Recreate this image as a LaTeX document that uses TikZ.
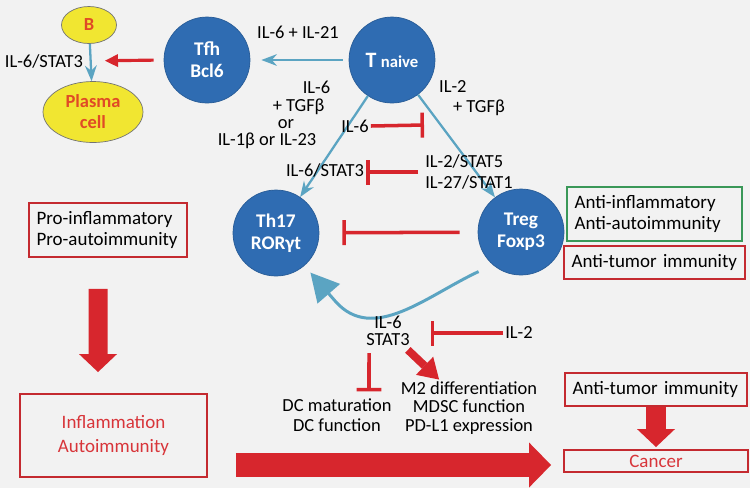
\documentclass[tikz,border=0pt]{standalone}
\usepackage{fontspec}
\setmainfont{Carlito}
\usetikzlibrary{shapes.geometric, arrows.meta, positioning}
\usepackage{xcolor}
\definecolor{cellblue}{HTML}{2F6CB2}
\definecolor{linkblue}{HTML}{5BA4C2}
\definecolor{inhred}{HTML}{D7262D}
\definecolor{boxred}{HTML}{C42A30}
\definecolor{boxgreen}{HTML}{3A9858}
\definecolor{bcellfill}{HTML}{F1E631}
\definecolor{bgrey}{HTML}{F2F2F2}
\definecolor{labred}{HTML}{E04A26}
\definecolor{txtred}{HTML}{D8353A}

\begin{document}
\begin{tikzpicture}[x=0.02cm, y=-0.02cm, >=Stealth,
  txt/.style={font=\fontsize{10.5}{11.5}\selectfont, align=center, inner sep=1pt},
  cell/.style={circle, fill=cellblue, draw=cellblue!85!black, minimum size=1.72cm, text=white, font=\bfseries\fontsize{11}{12.5}\selectfont, align=center},
  bcell/.style={ellipse, fill=bcellfill, draw=black!55, text=labred, font=\bfseries\fontsize{10.5}{12}\selectfont, align=center, inner sep=0pt},
  box/.style={rectangle, draw=#1, line width=1.1pt, font=\fontsize{10.8}{12}\selectfont, align=left, inner xsep=0.15cm, inner ysep=1pt},
  box/.default=boxred,
  link/.style={->, linkblue, line width=1.3pt},
  inhib/.style={-{Bar[width=0.5cm]}, inhred, line width=2pt},
  push/.style={-{Triangle[length=0.26cm, width=0.26cm, line width=0pt]}, inhred, line width=1.8pt},
  bigdown/.style={-{Triangle[length=0.36cm, width=0.76cm, line width=0pt]}, inhred, line width=0.38cm},
  bigright/.style={-{Triangle[length=0.44cm, width=0.9cm, line width=0pt]}, inhred, line width=0.48cm}]
  \fill[bgrey] (0,0) rectangle (750,488);
  % T cell subsets
  \node[cell] (tnaive) at (392,60) {{\fontsize{12.5}{12}\selectfont T} {\fontsize{9.5}{9}\selectfont naive}};
  \node[cell] (tfh) at (207,60) {Tfh\\Bcl6};
  \node[cell] (th17) at (276,233) {Th17\\RORγt};
  \node[cell] (treg) at (521,232) {Treg\\Foxp3};
  % B cells
  \node[bcell, minimum width=1.1cm, minimum height=0.74cm] (bcell) at (89,25) {B};
  \node[bcell, minimum width=2cm, minimum height=1.22cm] (plasma) at (93,112) {Plasma\\cell};
  \node[txt, anchor=east] (stat3b) at (85,61) {IL-6/STAT3};
  \draw[link] (bcell) -- (plasma);
  \draw[push, shorten <=0.2cm, shorten >=0.4cm] (tfh.west) -- (stat3b.east);
  % differentiation
  \node[txt] (il21) at (298,32) {IL-6 + IL-21};
  \draw[link, shorten <=0.12cm, shorten >=0.22cm] (tnaive) -- (tfh);
  \draw[link] (tnaive) -- (th17);
  \draw[link] (tnaive) -- (treg);
  \node[txt, align=left, font=\fontsize{10.5}{9.8}\selectfont] (th17cue) at (274,115) {\hspace*{1.7cm}IL-6\\\hspace*{1.1cm}+ TGFβ\\\hspace*{1.2cm}or\\IL-1β or IL-23};
  \node[txt, align=left] (tregcue) at (472,98) {IL-2\\\hspace*{0.28cm}+ TGFβ};
  \node[txt] (il6cue) at (355,126) {IL-6};
  \coordinate (il6bar) at (424,125);
  \draw[inhib] (il6cue.east) -- (il6bar);
  \node[txt] (stat3th) at (325,170) {IL-6/STAT3};
  \node[txt, align=left] (stat5) at (469,172) {IL-2/STAT5\\IL-27/STAT1};
  \draw[inhib, shorten <=0.1cm] (stat5.west) -- (stat5.west -| stat3th.east);
  \draw[inhib, shorten <=0.36cm, shorten >=0.46cm] (treg) -- (th17);
  \draw[-{Triangle[length=0.56cm, width=0.6cm, line width=0pt]}, linkblue, line width=1.7pt]
    ([shift={(223:1.16cm)}]treg.center) to[out=205, in=-49] ([shift={(-49:1.8cm)}]th17.center)
    -- ([shift={(-49:1.05cm)}]th17.center);
  % IL-6/STAT3 effects
  \node[txt, font=\fontsize{10.5}{10}\selectfont] (stat3) at (388,331) {IL-6\\STAT3};
  \node[txt] (il2) at (519,333) {IL-2};
  \draw[inhib, shorten >=0.38cm] (il2.west) -- (il2.west -| stat3.east);
  \node[txt] (dc) at (337,415) {DC maturation\\DC function};
  \node[txt, font=\fontsize{10.5}{10.5}\selectfont] (m2) at (469,408) {M2 differentiation\\MDSC function\\PD-L1 expression};
  \draw[inhib] ([xshift=-0.38cm, yshift=-0.1cm]stat3.south) -- ([xshift=0.64cm, yshift=0.1cm]dc.north);
  \draw[-{Triangle[length=0.4cm, width=0.5cm, line width=0pt]}, inhred, line width=4.5pt, shorten <=0.05cm] (stat3) -- (m2);
  % outcomes
  \node[box=boxgreen, text width=3.2cm, minimum height=1.08cm] (antiinf) at (654.5,214) {Anti-inflammatory\\Anti-autoimmunity};
  \node[box, text width=3.32cm, minimum height=0.66cm, below=0.06cm of antiinf] (antitum) {Anti-tumor immunity};
  \node[box, text width=2.86cm, minimum height=1.08cm] (pro) at (108,230) {Pro-inflammatory\\Pro-autoimmunity};
  \node[box, text width=3.44cm, align=center, minimum height=1.66cm, text=txtred, font=\fontsize{10.8}{13.5}\selectfont] (inflam) at (113.5,435.5) {Inflammation\\Autoimmunity};
  \node[box, text width=3.34cm, minimum height=0.66cm] (antitum2) at (656,389.5) {Anti-tumor immunity};
  \node[box, text width=3.38cm, align=center, minimum height=0.44cm, text=txtred, font=\fontsize{10.8}{11}\selectfont] (cancer) at (656,461) {Cancer};
  \draw[bigdown] ([xshift=-0.2cm, yshift=-0.62cm]pro.south) -- ([xshift=-0.31cm, yshift=0.42cm]inflam.north);
  \draw[bigdown, line width=0.4cm, shorten >=0.04cm] (antitum2.south) -- (cancer.north);
  \draw[bigright] ([xshift=0.56cm, yshift=-0.08cm]inflam.east |- cancer.west) -- ([xshift=-0.24cm, yshift=-0.08cm]cancer.west);
\end{tikzpicture}
\end{document}
